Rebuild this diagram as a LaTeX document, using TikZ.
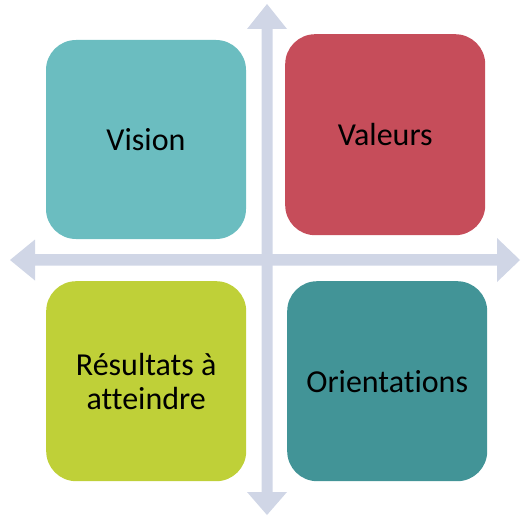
\documentclass[tikz,border=0pt]{standalone}
\usepackage{fontspec}
\setmainfont{Carlito}[Ligatures=NoCommon]
\definecolor{axiscol}{HTML}{D0D6E6}
\definecolor{visioncol}{HTML}{6BBDC0}
\definecolor{valeurscol}{HTML}{C64D5A}
\definecolor{resultcol}{HTML}{BFD038}
\definecolor{orientcol}{HTML}{429497}
\tikzset{
  quadbox/.style={rounded corners=30pt, minimum width=200pt, minimum height=200pt,
    inner sep=0pt, align=center, text=black, font=\fontsize{32}{34}\selectfont},
  axis/.style={fill=axiscol, draw=none}
}
\begin{document}
\begin{tikzpicture}[x=1pt,y=-1pt]
\useasboundingbox (0,0) rectangle (521,516);
% vertical double arrow
\fill[axis] (267,4) -- (287,29) -- (272.5,29) -- (272.5,492) -- (287,492) -- (267,515)
  -- (247,492) -- (261.5,492) -- (261.5,29) -- (247,29) -- cycle;
% horizontal double arrow
\fill[axis] (10,260) -- (35,239.5) -- (35,254) -- (497,254) -- (497,238) -- (520,260)
  -- (497,282) -- (497,265.5) -- (35,265.5) -- (35,280.5) -- cycle;
\node[quadbox, fill=visioncol, minimum width=200pt, minimum height=199pt] (vision) at (146,139.5) {Vision};
\node[quadbox, fill=valeurscol, minimum height=201pt] (valeurs) at (285,34) [anchor=north west] {Valeurs};
\node[quadbox, fill=resultcol] (resultats) at (46,281) [anchor=north west] {Résultats à\\atteindre};
\node[quadbox, fill=orientcol] (orientations) at (287,281) [anchor=north west] {Orientations};
\end{tikzpicture}
\end{document}
